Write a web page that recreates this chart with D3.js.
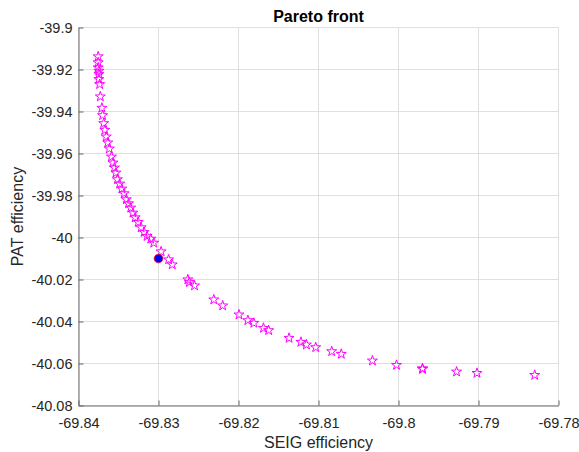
<!DOCTYPE html>
<html>
<head>
<meta charset="utf-8">
<script src="https://cdn.jsdelivr.net/npm/d3@7"></script>
<style>
  body { margin: 0; background: #fff; }
  svg { font-family: "Liberation Sans", Arial, sans-serif; }
</style>
</head>
<body>
<script>
// pareto points
var seigValues = [
  -69.83754, -69.83754, -69.83754, -69.83745, -69.83745, -69.83745, -69.83736, -69.83727,
  -69.83708, -69.83699, -69.83685, -69.83671, -69.83653, -69.83634, -69.83615, -69.83588,
  -69.83569, -69.83551, -69.83532, -69.83514, -69.83486, -69.83458, -69.83430, -69.83402,
  -69.83375, -69.83347, -69.83319, -69.83291, -69.83254, -69.83217, -69.83180, -69.83143,
  -69.83097, -69.83059, -69.82967, -69.82874, -69.82828, -69.82633, -69.82615, -69.82550,
  -69.82309, -69.82198, -69.81994, -69.81883, -69.81808, -69.81688, -69.81623, -69.81368,
  -69.81220, -69.81151, -69.81035, -69.80835, -69.80715, -69.80326, -69.80025, -69.79700,
  -69.79700, -69.79274, -69.79019, -69.78297
];
var patValues = [
  -39.91383, -39.91670, -39.91908, -39.92067, -39.92226, -39.92465, -39.92703, -39.93291,
  -39.93832, -39.94182, -39.94564, -39.94882, -39.95200, -39.95486, -39.95772, -39.96154,
  -39.96440, -39.96678, -39.96917, -39.97235, -39.97442, -39.97680, -39.97903, -39.98189,
  -39.98380, -39.98587, -39.98825, -39.99048, -39.99270, -39.99525, -39.99747, -39.99938,
  -40.00065, -40.00256, -40.00670, -40.01051, -40.01290, -40.02005, -40.02132, -40.02291,
  -40.02959, -40.03245, -40.03675, -40.03945, -40.04072, -40.04311, -40.04422, -40.04788,
  -40.04979, -40.05106, -40.05233, -40.05424, -40.05551, -40.05869, -40.06076, -40.06267,
  -40.06235, -40.06394, -40.06458, -40.06553
];
var bestPoint = [-69.83, -40.01];

var xTicks = [-69.84, -69.83, -69.82, -69.81, -69.8, -69.79, -69.78];
var yTicks = [-39.9, -39.92, -39.94, -39.96, -39.98, -40, -40.02, -40.04, -40.06, -40.08];

var width = 579, height = 452;
var pLeft = 78.5, pRight = 558.5, pTop = 27.5, pBottom = 405.5;

var svg = d3.select("body").append("svg")
  .attr("width", width)
  .attr("height", height);

var x = d3.scaleLinear().domain([-69.84, -69.78]).range([pLeft, pRight]);
var y = d3.scaleLinear().domain([-40.08, -39.9]).range([pBottom, pTop]);

function plain(d) { return String(+d.toFixed(4)); }

// grid
svg.append("g").selectAll("line")
  .data(xTicks).enter().append("line")
  .attr("x1", function(d) { return x(d); })
  .attr("x2", function(d) { return x(d); })
  .attr("y1", pTop).attr("y2", pBottom)
  .attr("stroke", "#dfdfdf");
svg.append("g").selectAll("line")
  .data(yTicks).enter().append("line")
  .attr("y1", function(d) { return y(d); })
  .attr("y2", function(d) { return y(d); })
  .attr("x1", pLeft).attr("x2", pRight)
  .attr("stroke", "#dfdfdf");

// axes
var xAxis = d3.axisBottom(x).tickValues(xTicks).tickSizeInner(-5).tickSizeOuter(0)
  .tickFormat(plain).tickPadding(12);
var yAxis = d3.axisLeft(y).tickValues(yTicks).tickSizeInner(-5).tickSizeOuter(0)
  .tickFormat(plain).tickPadding(6);

var gx = svg.append("g").attr("transform", "translate(0," + pBottom + ")").call(xAxis);
var gy = svg.append("g").attr("transform", "translate(" + pLeft + ",0)").call(yAxis);

[gx, gy].forEach(function(g) {
  g.select(".domain").attr("stroke", "#6b6b6b");
  g.selectAll(".tick line").attr("stroke", "#6b6b6b");
  g.selectAll(".tick text").attr("fill", "#262626")
    .style("font-size", "14.5px").style("font-family", "'Liberation Sans', Arial, sans-serif");
});

// stars
svg.append("g").selectAll("path")
  .data(seigValues).enter().append("path")
  .attr("d", d3.symbol().type(d3.symbolStar).size(31))
  .attr("transform", function(d, i) {
    return "translate(" + x(d) + "," + y(patValues[i]) + ")";
  })
  .attr("fill", "none")
  .attr("stroke", "#ff00ff")
  .attr("stroke-width", 1);

// selected point
svg.append("circle")
  .attr("cx", x(bestPoint[0]))
  .attr("cy", y(bestPoint[1]))
  .attr("r", 4.3)
  .attr("fill", "#0000ff")
  .attr("stroke", "#ff0000")
  .attr("stroke-width", 0.8);

// labels
svg.append("text")
  .attr("x", (pLeft + pRight) / 2).attr("y", 22)
  .attr("text-anchor", "middle")
  .style("font-size", "16px").style("font-weight", "bold")
  .attr("fill", "#000")
  .text("Pareto front");

svg.append("text")
  .attr("x", (pLeft + pRight) / 2).attr("y", 448)
  .attr("text-anchor", "middle")
  .style("font-size", "16px")
  .attr("fill", "#262626")
  .text("SEIG efficiency");

svg.append("text")
  .attr("transform", "translate(23," + (pTop + pBottom) / 2 + ") rotate(-90)")
  .attr("text-anchor", "middle")
  .style("font-size", "16px")
  .attr("fill", "#262626")
  .text("PAT efficiency");
</script>
</body>
</html>
